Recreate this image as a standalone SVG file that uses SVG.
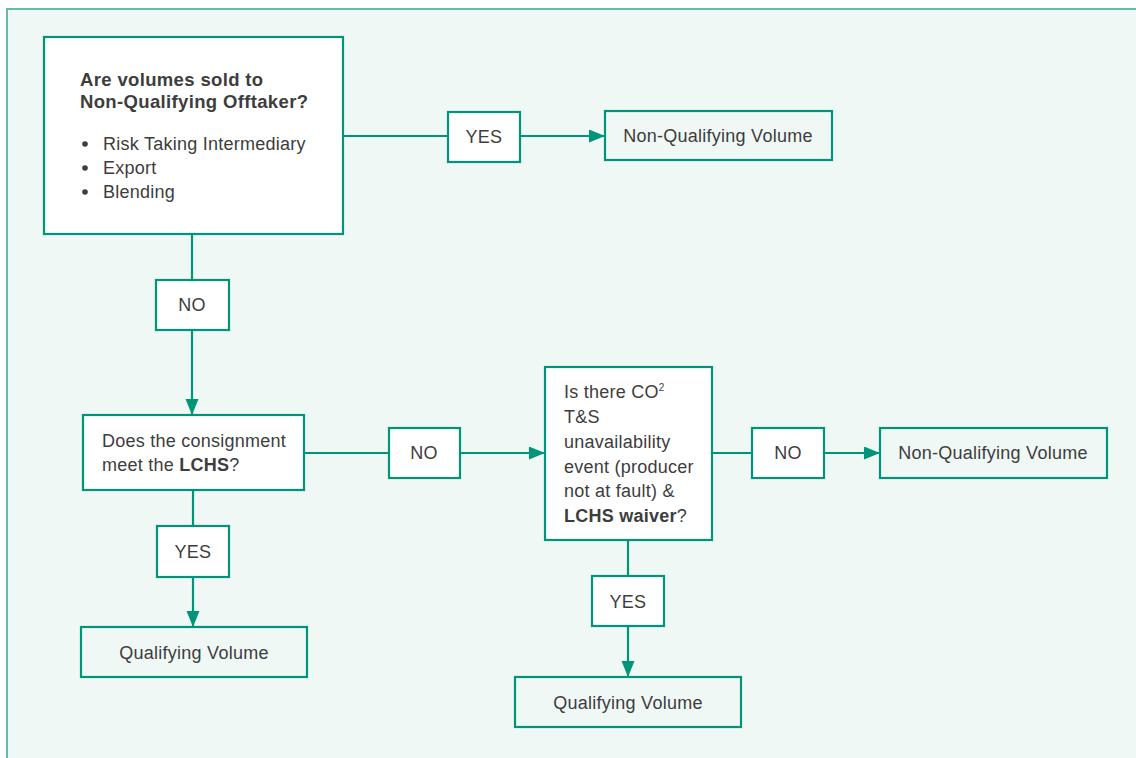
<svg xmlns="http://www.w3.org/2000/svg" width="1136" height="758" viewBox="0 0 1136 758">
<defs>
<style>
.box{fill:#ffffff;stroke:#009579;stroke-width:2.2}
.out{fill:#f0f8f5;stroke:#009579;stroke-width:2.2}
.lbl{fill:#ffffff;stroke:#009579;stroke-width:2.2}
.t{font-family:"Liberation Sans",Arial,sans-serif;font-size:18px;fill:#3d3d3d;letter-spacing:0.25px}
.c{text-anchor:middle}
.b{font-weight:bold}
.h{font-size:18.5px;letter-spacing:0.35px}
.conn{fill:none;stroke:#009579;stroke-width:2.2}
</style>
<marker id="ah" markerUnits="userSpaceOnUse" markerWidth="17" markerHeight="14" refX="16" refY="6.5" orient="auto">
<path d="M0,0 L16,6.5 L0,13 Z" fill="#009579"/>
</marker>
</defs>
<rect x="0" y="0" width="1136" height="758" fill="#ffffff"/>
<rect x="7" y="9" width="1140" height="760" fill="#f0f8f5" stroke="#5fbea5" stroke-width="2"/>

<g id="connectors">
<line class="conn" x1="343" y1="136" x2="448" y2="136"/>
<line class="conn" x1="520" y1="136" x2="605" y2="136" marker-end="url(#ah)"/>
<line class="conn" x1="192" y1="234" x2="192" y2="280"/>
<line class="conn" x1="192" y1="330" x2="192" y2="415" marker-end="url(#ah)"/>
<line class="conn" x1="304" y1="453" x2="389" y2="453"/>
<line class="conn" x1="460" y1="453" x2="545" y2="453" marker-end="url(#ah)"/>
<line class="conn" x1="712" y1="453" x2="752" y2="453"/>
<line class="conn" x1="824" y1="453" x2="880" y2="453" marker-end="url(#ah)"/>
<line class="conn" x1="193" y1="490" x2="193" y2="526"/>
<line class="conn" x1="193" y1="577" x2="193" y2="627" marker-end="url(#ah)"/>
<line class="conn" x1="628" y1="540" x2="628" y2="576"/>
<line class="conn" x1="628" y1="626" x2="628" y2="677" marker-end="url(#ah)"/>
</g>

<g id="q1">
<rect class="box" x="44" y="37" width="299" height="197"/>
<text class="t b h" x="80" y="86">Are volumes sold to</text>
<text class="t b h" x="80" y="108">Non-Qualifying Offtaker?</text>
<circle cx="85" cy="144" r="2.8" fill="#3d3d3d"/>
<circle cx="85" cy="168" r="2.8" fill="#3d3d3d"/>
<circle cx="85" cy="192" r="2.8" fill="#3d3d3d"/>
<text class="t" x="103" y="150">Risk Taking Intermediary</text>
<text class="t" x="103" y="174">Export</text>
<text class="t" x="103" y="198">Blending</text>
</g>

<g id="yes1">
<rect class="lbl" x="448" y="112" width="72" height="50"/>
<text class="t c" x="484" y="143">YES</text>
</g>

<g id="nqv1">
<rect class="out" x="605" y="111" width="227" height="49"/>
<text class="t c" x="718" y="142">Non-Qualifying Volume</text>
</g>

<g id="no1">
<rect class="lbl" x="156" y="280" width="73" height="50"/>
<text class="t c" x="192" y="311">NO</text>
</g>

<g id="q2">
<rect class="box" x="83" y="415" width="221" height="75"/>
<text class="t" x="102" y="447">Does the consignment</text>
<text class="t" x="102" y="471">meet the <tspan class="b">LCHS</tspan>?</text>
</g>

<g id="no2">
<rect class="lbl" x="389" y="428" width="71" height="50"/>
<text class="t c" x="424" y="459">NO</text>
</g>

<g id="q3">
<rect class="box" x="545" y="367" width="167" height="173"/>
<text class="t" x="564" y="398">Is there CO<tspan font-size="10" dy="-7">2</tspan></text>
<text class="t" x="564" y="423">T&amp;S</text>
<text class="t" x="564" y="448">unavailability</text>
<text class="t" x="564" y="473">event (producer</text>
<text class="t" x="564" y="497">not at fault) &amp;</text>
<text class="t" x="564" y="522"><tspan class="b">LCHS waiver</tspan>?</text>
</g>

<g id="no3">
<rect class="lbl" x="752" y="428" width="72" height="50"/>
<text class="t c" x="788" y="459">NO</text>
</g>

<g id="nqv2">
<rect class="out" x="880" y="428" width="227" height="50"/>
<text class="t c" x="993" y="459">Non-Qualifying Volume</text>
</g>

<g id="yes2">
<rect class="lbl" x="157" y="526" width="72" height="51"/>
<text class="t c" x="193" y="558">YES</text>
</g>

<g id="qv1">
<rect class="out" x="81" y="627" width="226" height="50"/>
<text class="t c" x="194" y="659">Qualifying Volume</text>
</g>

<g id="yes3">
<rect class="lbl" x="592" y="576" width="72" height="50"/>
<text class="t c" x="628" y="608">YES</text>
</g>

<g id="qv2">
<rect class="out" x="515" y="677" width="226" height="50"/>
<text class="t c" x="628" y="709">Qualifying Volume</text>
</g>
</svg>
